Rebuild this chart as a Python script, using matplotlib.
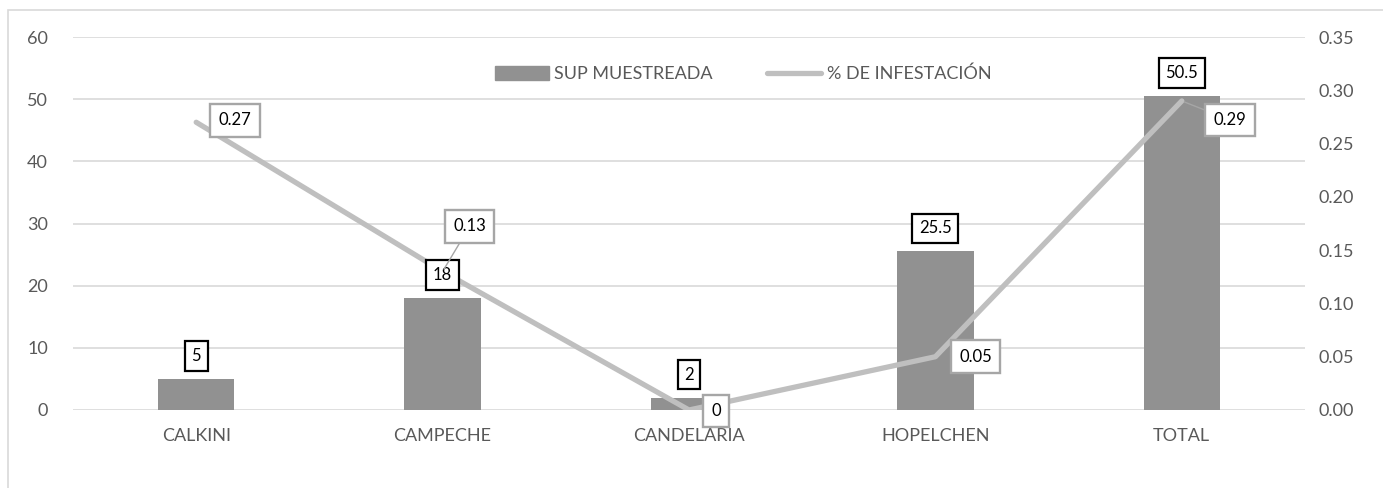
import matplotlib.pyplot as plt
from matplotlib.patches import Rectangle, Patch
from matplotlib.lines import Line2D

plt.rcParams['font.family'] = ['Lato', 'DejaVu Sans']

municipios = ['CALKINI', 'CAMPECHE', 'CANDELARIA', 'HOPELCHEN', 'TOTAL']
sup_muestreada = [5, 18, 2, 25.5, 50.5]
pct_infestacion = [0.27, 0.13, 0, 0.05, 0.29]

bar_col = '#919191'
line_col = '#BFBFBF'
txt_col = '#595959'

fig = plt.figure(figsize=(13.83, 4.88), dpi=100)
fig.patches.append(Rectangle((8 / 1383, -0.1), 1, 1.1 - 10 / 488, transform=fig.transFigure,
                             fill=False, edgecolor='#D9D9D9', linewidth=1.2))

ax = fig.add_axes([73 / 1383, 1 - 410 / 488, (1305 - 73) / 1383, (410 - 37) / 488])
ax2 = ax.twinx()

x = range(len(municipios))
ax.bar(x, sup_muestreada, width=0.31, color=bar_col, zorder=2)
ax.set_xlim(-0.5, 4.5)
ax.set_ylim(0, 60)
ax.set_yticks(range(0, 61, 10))
ax.set_xticks(list(x))
ax.set_xticklabels(municipios)
ax.grid(axis='y', color='#D9D9D9', linewidth=1.2, zorder=0)
ax.set_axisbelow(True)

ax2.plot(x, pct_infestacion, color=line_col, linewidth=3.8, solid_capstyle='round', zorder=3)
ax2.set_ylim(0, 0.35)
ax2.set_yticks([i * 0.05 for i in range(8)])
ax2.set_yticklabels([f'{i * 0.05:.2f}' for i in range(8)])

for a in (ax, ax2):
    for s in a.spines.values():
        s.set_visible(False)
    a.tick_params(length=0, labelsize=13, colors=txt_col)
ax.tick_params(axis='x', pad=13)
ax.tick_params(axis='y', pad=18)
ax2.tick_params(axis='y', pad=10)

# etiquetas de barras
for i, v in enumerate(sup_muestreada):
    ax2.annotate(f'{v:g}', xy=(i, v / 60 * 0.35), xytext=(0, 23), textcoords='offset pixels',
                 ha='center', va='center', fontsize=12, color='black', zorder=5,
                 bbox=dict(boxstyle='square,pad=0.4', fc='white', ec='black', lw=1.6))

# etiquetas de la linea
offs = [(39, 2), (27, 45), (27, -1), (40, 0), (48, -19)]
for i, v in enumerate(pct_infestacion):
    dx, dy = offs[i]
    arrow = None
    if abs(dy) > 10:
        arrow = dict(arrowstyle='-', color='#A6A6A6', lw=1.0, shrinkA=0, shrinkB=2)
    ax2.annotate(f'{v:g}', xy=(i, v), xytext=(dx, dy), textcoords='offset pixels',
                 ha='center', va='center', fontsize=12, color='black', zorder=6,
                 arrowprops=arrow,
                 bbox=dict(boxstyle='square,pad=0.5', fc='white', ec='#A6A6A6', lw=1.7))

handles = [Patch(color=bar_col), Line2D([], [], color=line_col, linewidth=3.8, solid_capstyle='round')]
fig.legend(handles, ['SUP MUESTREADA', '% DE INFESTACIÓN'], loc='center',
           bbox_to_anchor=(743 / 1383, 1 - 74 / 488), ncol=2, frameon=False,
           fontsize=13, labelcolor=txt_col, handlelength=3.0, handleheight=0.8,
           handletextpad=0.3, columnspacing=3.0)

fig.savefig('out.png', dpi=100)
